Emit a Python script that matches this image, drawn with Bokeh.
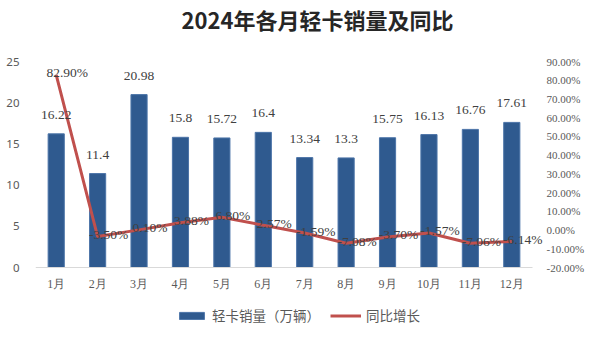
from bokeh.plotting import figure
from bokeh.models import (ColumnDataSource, Range1d, Label, LabelSet, Legend, LegendItem,
                          FixedTicker)
from bokeh.embed import file_html
from bokeh.resources import INLINE

title_text = "2024年各月轻卡销量及同比"
months = ["1月", "2月", "3月", "4月", "5月", "6月", "7月", "8月", "9月", "10月", "11月", "12月"]
sales = [16.22, 11.4, 20.98, 15.8, 15.72, 16.4, 13.34, 13.3, 15.75, 16.13, 16.76, 17.61]
yoy = [82.90, -3.50, 0.10, 3.88, 6.80, 2.57, -1.59, -7.08, -3.70, -1.57, -7.06, -6.14]
left_ticks = [0, 5, 10, 15, 20, 25]
right_ticks = [-20, -10, 0, 10, 20, 30, 40, 50, 60, 70, 80, 90]
series_names = ["轻卡销量（万辆）", "同比增长"]

BAR = "#2F5A8F"
LINE = "#C0504D"
TXT = "#404040"
AX = "#595959"
NUM_FONT = "Noto Sans"
CJK = "Noto Sans CJK SC"

# layout geometry (pixels)
W, H = 600, 341
PLOT_LEFT, PLOT_RIGHT = 35, 532        # category band edges
PLOT_TOP, PLOT_BOTTOM = 61, 267        # top tick and zero line
n = len(months)
L_MIN, L_MAX = left_ticks[0], left_ticks[-1]
R_MIN, R_MAX = right_ticks[0], right_ticks[-1]
pxx = (PLOT_RIGHT - PLOT_LEFT) / n
pxl = (PLOT_BOTTOM - PLOT_TOP) / (L_MAX - L_MIN)
pxr = (PLOT_BOTTOM - PLOT_TOP) / (R_MAX - R_MIN)
x_range = Range1d(-0.5, -0.5 + (W - PLOT_LEFT) / pxx)
left_range = Range1d(L_MIN - (H - PLOT_BOTTOM) / pxl, L_MAX + PLOT_TOP / pxl)
right_range = Range1d(R_MIN - (H - PLOT_BOTTOM) / pxr, R_MAX + PLOT_TOP / pxr)

idx = list(range(n))
src = ColumnDataSource(dict(
    i=idx, m=months, s=sales, y=yoy, zero=[0] * n,
    s_lbl=[("%g" % v) for v in sales],
    y_lbl=["%.2f%%" % v for v in yoy],
))
rsrc = ColumnDataSource(dict(
    x=[n - 0.5] * len(right_ticks), y=right_ticks,
    t=["%.2f%%" % v for v in right_ticks],
))

p = figure(width=W, height=H, x_range=x_range, y_range=left_range,
           output_backend="svg", toolbar_location=None,
           min_border_left=PLOT_LEFT, min_border_right=0, min_border_top=0, min_border_bottom=0)
p.extra_y_ranges = {"pct": right_range}

p.outline_line_color = None
p.xgrid.visible = False
p.ygrid.visible = False
p.background_fill_color = "white"
p.border_fill_color = "white"
p.xaxis.visible = False

bars = p.vbar(x="i", top="s", width=0.39, source=src, fill_color=BAR,
              line_color="#4C74A8", line_width=1)
p.segment(x0=[-0.5], y0=[0], x1=[n - 0.5], y1=[0], line_color="#D9D9D9", line_width=1)
ln = p.line(x="i", y="y", source=src, y_range_name="pct", line_color=LINE,
            line_width=3)

# left axis
ya = p.yaxis[0]
ya.ticker = FixedTicker(ticks=left_ticks)
ya.axis_line_color = None
ya.major_tick_line_color = None
ya.minor_tick_line_color = None
ya.major_label_standoff = 10
ya.major_label_text_font = NUM_FONT
ya.major_label_text_font_size = "11.5px"
ya.major_label_text_color = AX

# right (percentage) axis labels
p.add_layout(LabelSet(x="x", y="y", text="t", source=rsrc, y_range_name="pct",
                      x_offset=14, text_align="left", text_baseline="middle",
                      text_font=NUM_FONT, text_font_size="11px", text_color=AX))

# category labels under the zero line
p.add_layout(LabelSet(x="i", y="zero", text="m", source=src, y_offset=-16,
                      text_align="center", text_baseline="middle",
                      text_font=CJK, text_font_size="12px", text_color=AX))

p.add_layout(LabelSet(x="i", y="s", text="s_lbl", source=src, y_offset=19,
                      text_align="center", text_baseline="middle",
                      text_font=NUM_FONT, text_font_size="13.5px", text_color=TXT))

p.add_layout(LabelSet(x="i", y="y", text="y_lbl", source=src, y_range_name="pct",
                      x_offset=11, y_offset=2, text_align="center", text_baseline="middle",
                      text_font=NUM_FONT, text_font_size="13.5px", text_color=TXT))

# title (screen units relative to the frame's bottom-left corner)
p.add_layout(Label(x=282, y=H - 18, x_units="screen", y_units="screen", text=title_text,
                   text_align="center", text_baseline="middle", text_font=CJK,
                   text_font_size="22px", text_font_style="bold", text_color="#262626"))

legend = Legend(items=[LegendItem(label=series_names[0], renderers=[bars]),
                       LegendItem(label=series_names[1], renderers=[ln])],
                orientation="horizontal", location=(141, 16),
                border_line_color=None, background_fill_alpha=0,
                label_text_font=CJK, label_text_font_size="13.5px", label_text_color=AX,
                glyph_width=31, glyph_height=9, label_standoff=5, spacing=10,
                padding=0, margin=0, label_height=14)
p.add_layout(legend, "center")

open("out.html", "w").write(file_html(p, INLINE))
